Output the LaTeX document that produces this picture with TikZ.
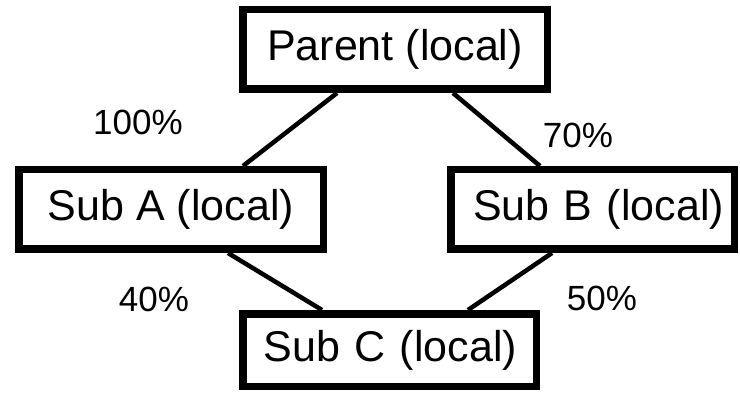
\documentclass[tikz,border=0pt]{standalone}
\usepackage{fontspec}
\setmainfont{Liberation Sans}
\usepackage{tikz}

\begin{document}
\begin{tikzpicture}[x=1pt, y=-1pt,
    box/.style={draw, line width=7.5pt, rectangle, inner sep=0pt,
                font=\fontsize{43}{50}\selectfont},
    link/.style={line width=4.5pt},
    pct/.style={anchor=base, inner sep=0pt, font=\fontsize{35}{40}\selectfont}]

    % Frame
    \useasboundingbox (0,0) rectangle (740,393);

    % Boxes
    \node[box, minimum width=304.5pt, minimum height=79.5pt] (parent) at (395,49.5) {Parent (local)};
    \node[box, minimum width=304.5pt, minimum height=79.5pt] (subA) at (171,209.5) {Sub A (local)};
    \node[box, minimum width=283.5pt, minimum height=79.5pt,
          text width=263pt, align=right] (subB) at (592.5,209.5) {Sub B (local)};
    \node[box, minimum width=293.5pt, minimum height=72.5pt,
          text width=255pt, align=right] (subC) at (389.5,350) {Sub C (local)};

    % Connectors
    \draw[link] ([xshift=-58pt]parent.south) -- ([xshift=72pt]subA.north);
    \draw[link] ([xshift=58pt]parent.south) -- ([xshift=-52.5pt]subB.north);
    \draw[link] ([xshift=57pt]subA.south) -- ([xshift=-67.5pt]subC.north);
    \draw[link] ([xshift=-40.5pt]subB.south) -- ([xshift=78.5pt]subC.north);

    % Percentages
    \node[pct] (pA) at (138,135) {100\%};
    \node[pct] (pB) at (578,148) {70\%};
    \node[pct] (pCA) at (154,312) {40\%};
    \node[pct] (pCB) at (602,310) {50\%};

\end{tikzpicture}
\end{document}
